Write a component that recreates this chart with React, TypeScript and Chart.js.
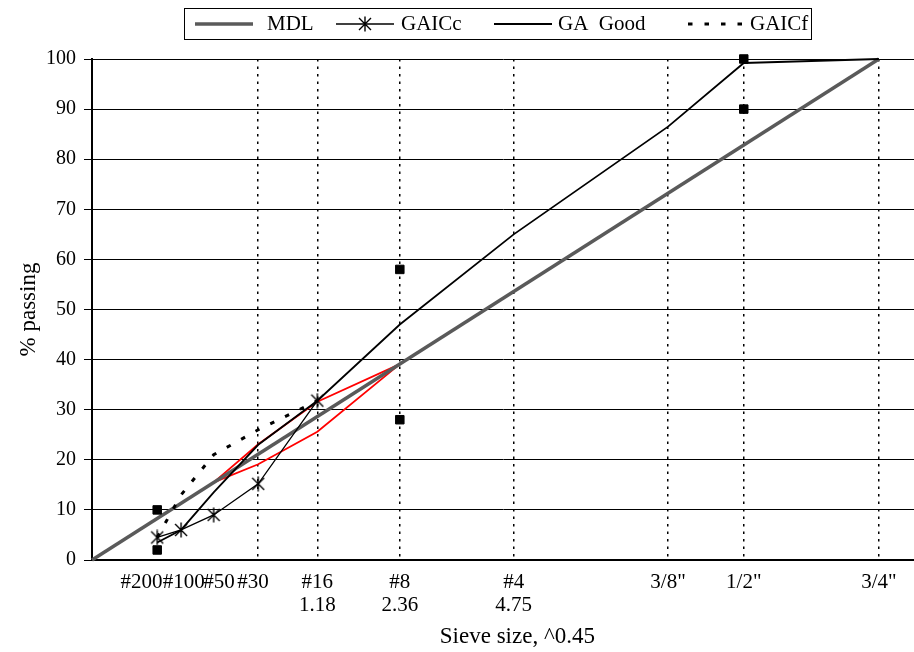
import { useEffect, useRef } from 'react';
import { Chart, registerables } from 'chart.js';

Chart.register(...registerables);

// ---- data ----
const EXP = 0.45;
const SIEVE_MM = [0.075, 0.15, 0.3, 0.6, 1.18, 2.36, 4.75, 9.5, 12.5, 19];
const SIEVE_LABELS: string[][] = [
  ['#200'], ['#100'], ['#50'], ['#30'],
  ['#16', '1.18'], ['#8', '2.36'], ['#4', '4.75'],
  ['3/8"'], ['1/2"'], ['3/4"'],
];

const MDL_MM = [0, 19];
const MDL_PASS = [0, 100];

const GAICC_MM = [0.075, 0.15, 0.3, 0.6, 1.18];
const GAICC_PASS = [4.5, 6, 9, 15.2, 31.8];

const GAGOOD_MM = [0.075, 0.15, 0.3, 0.6, 1.18, 2.36, 4.75, 9.5, 12.5, 19];
const GAGOOD_PASS = [3.5, 6, 13.5, 23, 31.8, 47, 65, 86.5, 99.2, 100];

const GAICF_MM = [0.075, 0.15, 0.3, 0.6, 1.18];
const GAICF_PASS = [4.5, 13, 21, 26, 31.8];

const RZ_MM = [0.3, 0.6, 1.18, 2.36];
const RZ_UPPER = [15.5, 23.1, 31.6, 39.1];
const RZ_LOWER = [15.5, 19.1, 25.6, 39.1];

const CP_MM = [0.075, 0.075, 2.36, 2.36, 12.5, 12.5];
const CP_PASS = [2, 10, 28, 58, 90, 100];

// ---- style ----
const FONT = "'Liberation Serif', 'Times New Roman', serif";
const X_GRID = [false, false, false, true, true, true, true, true, true, true];
const LABEL_NUDGE = [-6, 1, 2, -2, 0, 0, 0, 0, 0, 0];

const legendPlugin = {
  id: 'boxLegend',
  afterDraw(chart: any, _args: any, opts: any) {
    const ctx = chart.ctx as CanvasRenderingContext2D;
    ctx.save();
    ctx.strokeStyle = '#000';
    ctx.lineWidth = 1;
    ctx.strokeRect(opts.x + 0.5, opts.y + 0.5, opts.w, opts.h);
    const cy = opts.y + opts.h / 2 + 0.5;
    ctx.font = `${opts.fontSize}px ${FONT}`;
    ctx.textBaseline = 'middle';
    ctx.textAlign = 'left';
    ctx.fillStyle = '#000';
    opts.items.forEach((it: any) => {
      const ds = chart.data.datasets[it.dataset];
      ctx.save();
      ctx.strokeStyle = ds.borderColor;
      ctx.lineWidth = ds.borderWidth;
      ctx.setLineDash(ds.borderDash || []);
      ctx.beginPath();
      ctx.moveTo(it.x, cy);
      ctx.lineTo(it.x + opts.sampleWidth, cy);
      ctx.stroke();
      ctx.restore();
      const ps = ds.pointStyle;
      if (ps && typeof ps === 'object' && ps.width) {
        ctx.drawImage(ps, Math.round(it.x + opts.sampleWidth / 2 - ps.width / 2), Math.round(cy - ps.height / 2));
      }
      ctx.fillText(ds.label, it.tx, cy);
    });
    ctx.restore();
  },
};

export default function App() {
  const ref = useRef<HTMLCanvasElement>(null);

  useEffect(() => {
    const star = document.createElement('canvas');
    star.width = 14;
    star.height = 16;
    const s = star.getContext('2d')!;
    s.strokeStyle = '#000';
    s.lineWidth = 1.4;
    s.beginPath();
    s.moveTo(1, 2); s.lineTo(13, 14);
    s.moveTo(13, 2); s.lineTo(1, 14);
    s.moveTo(7, 0.5); s.lineTo(7, 15.5);
    s.stroke();

    const pts = (mm: number[], pass: number[]) =>
      mm.map((m, i) => ({ x: Math.pow(m, EXP), y: pass[i] }));

    const chart = new Chart(ref.current!, {
      type: 'scatter',
      data: {
        datasets: [
          {
            label: 'MDL', data: pts(MDL_MM, MDL_PASS), showLine: true,
            borderColor: '#5a5a5a', borderWidth: 3.5, pointRadius: 0, order: 4, clip: false,
          },
          {
            label: 'GAICc', data: pts(GAICC_MM, GAICC_PASS), showLine: true,
            borderColor: '#000', borderWidth: 1.3, pointStyle: star, pointRadius: 6, order: 1, clip: false,
          },
          {
            label: 'GA  Good', data: pts(GAGOOD_MM, GAGOOD_PASS), showLine: true,
            borderColor: '#000', borderWidth: 1.8, pointRadius: 0, order: 3, clip: false,
          },
          {
            label: 'GAICf', data: pts(GAICF_MM, GAICF_PASS), showLine: true,
            borderColor: '#000', borderWidth: 3, borderDash: [4.5, 12], pointRadius: 0, order: 2, clip: false,
          },
          {
            label: 'Restricted zone upper', data: pts(RZ_MM, RZ_UPPER), showLine: true,
            borderColor: '#ff0000', borderWidth: 1.8, pointRadius: 0, order: 5, clip: false,
          },
          {
            label: 'Restricted zone lower', data: pts(RZ_MM, RZ_LOWER), showLine: true,
            borderColor: '#ff0000', borderWidth: 1.8, pointRadius: 0, order: 5, clip: false,
          },
          {
            label: 'Control points', data: pts(CP_MM, CP_PASS), showLine: false,
            pointStyle: 'rect', pointRadius: 6, backgroundColor: '#000', borderColor: '#000',
            borderWidth: 1, order: 0, clip: false,
          },
        ],
      },
      options: {
        animation: false,
        responsive: true,
        maintainAspectRatio: false,
        events: [],
        layout: { autoPadding: false, padding: { top: 59, left: 0, right: 0, bottom: 0 } },
        plugins: {
          legend: { display: false },
          tooltip: { enabled: false },
          boxLegend: {
            x: 184, y: 8, w: 627, h: 31, fontSize: 21, sampleWidth: 58,
            items: [
              { dataset: 0, x: 195, tx: 267 },
              { dataset: 1, x: 336, tx: 401 },
              { dataset: 2, x: 494, tx: 558 },
              { dataset: 3, x: 688, tx: 750 },
            ],
          },
        } as any,
        scales: {
          x: {
            type: 'linear',
            min: 0,
            max: 3.93,
            afterBuildTicks: (scale: any) => {
              scale.ticks = SIEVE_MM.map((m) => ({ value: Math.pow(m, EXP) }));
            },
            afterFit: (scale: any) => {
              scale.height = 92;
              scale.paddingLeft = 0;
              scale.paddingRight = 0;
            },
            ticks: {
              autoSkip: false,
              maxRotation: 0,
              minRotation: 0,
              padding: 10.5,
              color: '#000',
              font: { family: FONT, size: 21, lineHeight: 1.1 },
              callback: (_v: any, i: number) => {
                const lines = SIEVE_LABELS[i].slice();
                const n = LABEL_NUDGE[i];
                lines[0] = n > 0 ? ' '.repeat(n) + lines[0] : lines[0] + ' '.repeat(-n);
                return lines.length === 1 ? lines[0] : lines;
              },
            },
            grid: {
              color: (c: any) => (X_GRID[c.index] ? '#000' : 'rgba(0,0,0,0)'),
              lineWidth: 1.5,
              drawTicks: false,
            },
            border: { display: true, color: '#000', width: 2, dash: [2.5, 5] },
            title: {
              display: true,
              text: '     Sieve size, ^0.45',
              color: '#000',
              font: { family: FONT, size: 23 },
              padding: { top: 0, bottom: 1 },
            },
          },
          y: {
            min: 0,
            max: 100,
            afterFit: (scale: any) => { scale.width = 92; },
            ticks: { stepSize: 10, padding: 8, color: '#000', font: { family: FONT, size: 20 } },
            grid: { color: '#000', lineWidth: 1, tickLength: 8, drawTicks: true },
            border: { display: true, color: '#000', width: 2 },
            title: {
              display: true,
              text: '% passing',
              color: '#000',
              font: { family: FONT, size: 23 },
              padding: { top: 15, bottom: 0 },
            },
          },
        },
      },
      plugins: [legendPlugin],
    } as any);

    return () => chart.destroy();
  }, []);

  return (
    <div style={{ position: 'fixed', left: 0, top: 0, width: 914, height: 652, background: '#fff' }}>
      <canvas ref={ref} />
    </div>
  );
}
